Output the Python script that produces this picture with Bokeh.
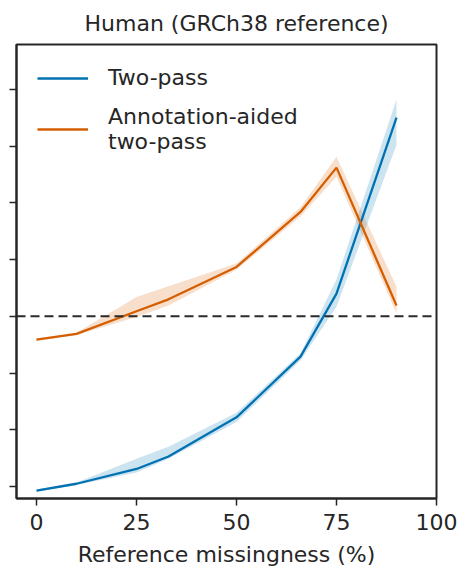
from bokeh.plotting import figure
from bokeh.models import Range1d, Span, Legend, LegendItem, FixedTicker, CustomJSTickFormatter, ColumnDataSource
from bokeh.embed import file_html
from bokeh.resources import INLINE

# Data (y in arbitrary units: one unlabeled y tick per unit, dashed line at 0)
missingness = [0, 10, 25, 33, 50, 66, 75, 90]
two_pass = [-3.07, -2.95, -2.69, -2.47, -1.78, -0.71, 0.40, 3.50]
two_pass_lo = [-3.09, -2.97, -2.75, -2.51, -1.86, -0.78, 0.17, 3.02]
two_pass_hi = [-3.05, -2.93, -2.51, -2.30, -1.70, -0.65, 0.65, 3.82]
annot = [-0.41, -0.31, 0.09, 0.30, 0.87, 1.84, 2.62, 0.19]
annot_lo = [-0.43, -0.33, -0.01, 0.19, 0.82, 1.76, 2.46, 0.05]
annot_hi = [-0.39, -0.29, 0.34, 0.53, 0.93, 1.92, 2.81, 0.52]
x_ticks = [0, 25, 50, 75, 100]
y_ticks = [-3, -2, -1, 0, 1, 2, 3, 4]
series_names = ["Two-pass", "Annotation-aided\ntwo-pass"]
title_text = "Human (GRCh38 reference)"
x_label = "Reference missingness (%)"

BLUE = "#0072B2"
ORANGE = "#D55E00"
DARK = "#262626"
FONT = "DejaVu Sans"
FS = "22px"

src = ColumnDataSource(dict(x=missingness, tp=two_pass, tp_lo=two_pass_lo, tp_hi=two_pass_hi,
                            an=annot, an_lo=annot_lo, an_hi=annot_hi))

p = figure(width=457, height=569, x_range=Range1d(-5, 100), y_range=Range1d(-3.21, 4.79),
           toolbar_location=None, output_backend="svg",
           min_border_left=16, min_border_right=21, min_border_top=44, min_border_bottom=71)

p.title.text = title_text
p.title.align = "left"
p.title.offset = 68
p.title.text_font = FONT
p.title.text_font_size = FS
p.title.text_font_style = "normal"
p.title.text_color = DARK
p.title.text_line_height = 1.0
p.title.standoff = 17

p.varea(x="x", y1="tp_lo", y2="tp_hi", source=src, fill_color=BLUE, fill_alpha=0.2)
p.varea(x="x", y1="an_lo", y2="an_hi", source=src, fill_color=ORANGE, fill_alpha=0.2)

zero = Span(location=0, dimension="width", line_color="#2a2a2a", line_width=2, line_dash="9 5")
p.add_layout(zero)

r_tp = p.line(x="x", y="tp", source=src, line_color=BLUE, line_width=2.3)
r_an = p.line(x="x", y="an", source=src, line_color=ORANGE, line_width=2.3)

p.grid.visible = False
p.outline_line_color = DARK
p.outline_line_width = 2
p.outline_line_alpha = 1

for ax in (p.xaxis[0], p.yaxis[0]):
    ax.axis_line_color = DARK
    ax.axis_line_width = 2
    ax.major_tick_line_color = DARK
    ax.major_tick_line_width = 1.5
    ax.major_tick_out = 7
    ax.major_tick_in = 0
    ax.minor_tick_line_color = None
    ax.major_label_text_font = FONT
    ax.major_label_text_font_size = FS
    ax.major_label_text_color = DARK

p.xaxis.ticker = FixedTicker(ticks=x_ticks)
p.yaxis.ticker = FixedTicker(ticks=y_ticks)
p.yaxis.formatter = CustomJSTickFormatter(code="return ''")
p.xaxis.axis_label = x_label
p.xaxis.axis_label_text_font = FONT
p.xaxis.axis_label_text_font_size = FS
p.xaxis.axis_label_text_font_style = "normal"
p.xaxis.axis_label_text_color = DARK
p.xaxis.major_label_text_line_height = 1.0
p.xaxis.axis_label_text_line_height = 1.0
p.xaxis.major_label_standoff = 8
p.xaxis.axis_label_standoff = 9

legend = Legend(items=[LegendItem(label=series_names[0], renderers=[r_tp]),
                       LegendItem(label=series_names[1], renderers=[r_an])],
                location="top_left", border_line_color=None, background_fill_alpha=0,
                label_text_font=FONT, label_text_font_size=FS, label_text_color=DARK,
                glyph_width=51, label_standoff=20, spacing=14, padding=12, margin=21)
p.add_layout(legend)

open("out.html", "w").write(file_html(p, INLINE))
